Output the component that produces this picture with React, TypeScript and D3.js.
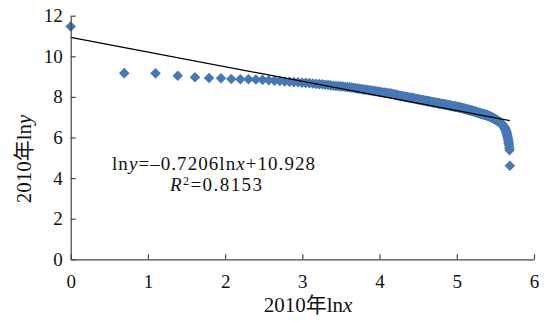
import React, { useEffect, useRef } from "react";
import * as d3 from "d3";

// ln(size) for cities ranked 1..N (x = ln(rank))
const lnY: number[] = [
  11.47, 9.17, 9.16, 9.04, 8.97, 8.93, 8.92, 8.88, 8.87, 8.87,
  8.86, 8.84, 8.82, 8.80, 8.78, 8.76, 8.75, 8.73, 8.72, 8.70,
  8.69, 8.68, 8.66, 8.64, 8.63, 8.62, 8.60, 8.59, 8.57, 8.55,
  8.54, 8.53, 8.52, 8.51, 8.49, 8.48, 8.47, 8.46, 8.45, 8.43,
  8.41, 8.40, 8.39, 8.37, 8.36, 8.35, 8.34, 8.32, 8.31, 8.30,
  8.29, 8.28, 8.27, 8.25, 8.24, 8.23, 8.22, 8.21, 8.20, 8.19,
  8.18, 8.17, 8.16, 8.15, 8.13, 8.12, 8.11, 8.10, 8.08, 8.07,
  8.06, 8.05, 8.04, 8.03, 8.02, 8.01, 8.00, 7.99, 7.98, 7.97,
  7.96, 7.95, 7.95, 7.94, 7.93, 7.92, 7.91, 7.90, 7.89, 7.88,
  7.87, 7.86, 7.86, 7.85, 7.84, 7.83, 7.82, 7.82, 7.81, 7.80,
  7.79, 7.79, 7.78, 7.77, 7.77, 7.76, 7.75, 7.74, 7.74, 7.73,
  7.72, 7.72, 7.71, 7.70, 7.70, 7.69, 7.68, 7.68, 7.67, 7.66,
  7.66, 7.65, 7.65, 7.64, 7.64, 7.63, 7.63, 7.62, 7.61, 7.61,
  7.60, 7.60, 7.59, 7.59, 7.58, 7.57, 7.57, 7.56, 7.55, 7.55,
  7.54, 7.54, 7.53, 7.53, 7.52, 7.52, 7.51, 7.51, 7.50, 7.50,
  7.49, 7.49, 7.48, 7.48, 7.47, 7.47, 7.46, 7.45, 7.45, 7.44,
  7.43, 7.43, 7.42, 7.42, 7.41, 7.40, 7.40, 7.39, 7.39, 7.38,
  7.37, 7.37, 7.36, 7.36, 7.35, 7.34, 7.34, 7.33, 7.33, 7.32,
  7.32, 7.31, 7.30, 7.30, 7.29, 7.29, 7.28, 7.27, 7.27, 7.26,
  7.25, 7.25, 7.24, 7.23, 7.23, 7.22, 7.22, 7.21, 7.20, 7.20,
  7.19, 7.19, 7.18, 7.18, 7.17, 7.16, 7.16, 7.15, 7.15, 7.14,
  7.14, 7.13, 7.13, 7.12, 7.12, 7.11, 7.11, 7.10, 7.10, 7.09,
  7.08, 7.08, 7.07, 7.06, 7.06, 7.05, 7.04, 7.04, 7.03, 7.02,
  7.01, 7.00, 7.00, 6.99, 6.98, 6.97, 6.96, 6.95, 6.94, 6.93,
  6.93, 6.92, 6.91, 6.90, 6.89, 6.88, 6.87, 6.86, 6.85, 6.84,
  6.83, 6.82, 6.81, 6.80, 6.79, 6.78, 6.77, 6.76, 6.75, 6.74,
  6.73, 6.72, 6.71, 6.70, 6.69, 6.67, 6.65, 6.63, 6.61, 6.59,
  6.57, 6.55, 6.53, 6.51, 6.49, 6.47, 6.44, 6.41, 6.38, 6.35,
  6.31, 6.27, 6.22, 6.17, 6.12, 6.06, 6.00, 5.93, 5.86, 5.78,
  5.70, 5.62, 5.50, 5.38, 4.61,
];

const xTicks = [0, 1, 2, 3, 4, 5, 6];
const yTicks = [0, 2, 4, 6, 8, 10, 12];
const slope = -0.7206;
const intercept = 10.928;

const W = 550;
const H = 321;
const FONT = "Liberation Serif, Times New Roman, Noto Sans CJK SC, serif";

export default function App() {
  const ref = useRef<SVGGElement>(null);

  useEffect(() => {
    const svg = d3.select(ref.current);
    svg.selectAll("*").remove();

    const x = d3.scaleLinear().domain([0, 6]).range([70.7, 534]);
    const y = d3.scaleLinear().domain([0, 12]).range([259.3, 15.7]);

    const pts = lnY.map((v, i) => ({ lx: Math.log(i + 1), ly: v }));

    // markers
    svg
      .append("g")
      .selectAll("path")
      .data(pts)
      .join("path")
      .attr("transform", (d) => `translate(${x(d.lx)},${y(d.ly)})`)
      .attr("d", "M0,-5.3L5.3,0L0,5.3L-5.3,0Z")
      .attr("fill", "#4878b4");

    // trend line
    const xEnd = Math.log(lnY.length);
    svg
      .append("line")
      .attr("x1", x(0))
      .attr("y1", y(intercept))
      .attr("x2", x(xEnd))
      .attr("y2", y(intercept + slope * xEnd))
      .attr("stroke", "#000")
      .attr("stroke-width", 1.3);

    // axes
    const gx = svg
      .append("g")
      .attr("transform", `translate(0,${y(0)})`)
      .call(
        d3
          .axisBottom(x)
          .tickValues(xTicks)
          .tickSizeInner(-5)
          .tickSizeOuter(0)
          .tickPadding(15)
          .tickFormat(d3.format("d"))
      );
    const gy = svg
      .append("g")
      .attr("transform", `translate(${x(0)},0)`)
      .call(
        d3
          .axisLeft(y)
          .tickValues(yTicks)
          .tickSizeInner(-5)
          .tickSizeOuter(0)
          .tickPadding(8)
          .tickFormat(d3.format("d"))
      );
    [gx, gy].forEach((g) => {
      g.attr("font-family", FONT).attr("font-size", 19);
      g.selectAll("path,line").attr("stroke", "#444").attr("stroke-width", 1.2);
      g.selectAll("text").attr("fill", "#111");
    });
  }, []);

  return (
    <svg
      width={W}
      height={H}
      style={{ position: "absolute", left: 0, top: 0, background: "#fff" }}
    >
      <g ref={ref} />
      <text
        x={112}
        y={170}
        fontFamily={FONT}
        fontSize={19}
        fill="#111"
        textLength={203}
        lengthAdjust="spacing"
      >
        ln<tspan fontStyle="italic">y</tspan>=–0.7206ln<tspan fontStyle="italic">x</tspan>+10.928
      </text>
      <text
        x={170}
        y={191}
        fontFamily={FONT}
        fontSize={19}
        fill="#111"
        textLength={92}
        lengthAdjust="spacing"
      >
        <tspan fontStyle="italic">R</tspan>
        <tspan fontSize={12} dy={-6}>2</tspan>
        <tspan dy={6}>=0.8153</tspan>
      </text>
      <text
        x={308}
        y={312}
        textAnchor="middle"
        fontFamily={FONT}
        fontSize={21}
        fill="#111"
      >
        2010年ln<tspan fontStyle="italic">x</tspan>
      </text>
      <text
        transform="translate(31,159) rotate(-90)"
        textAnchor="middle"
        fontFamily={FONT}
        fontSize={21}
        fill="#111"
      >
        2010年ln<tspan fontStyle="italic">y</tspan>
      </text>
    </svg>
  );
}
